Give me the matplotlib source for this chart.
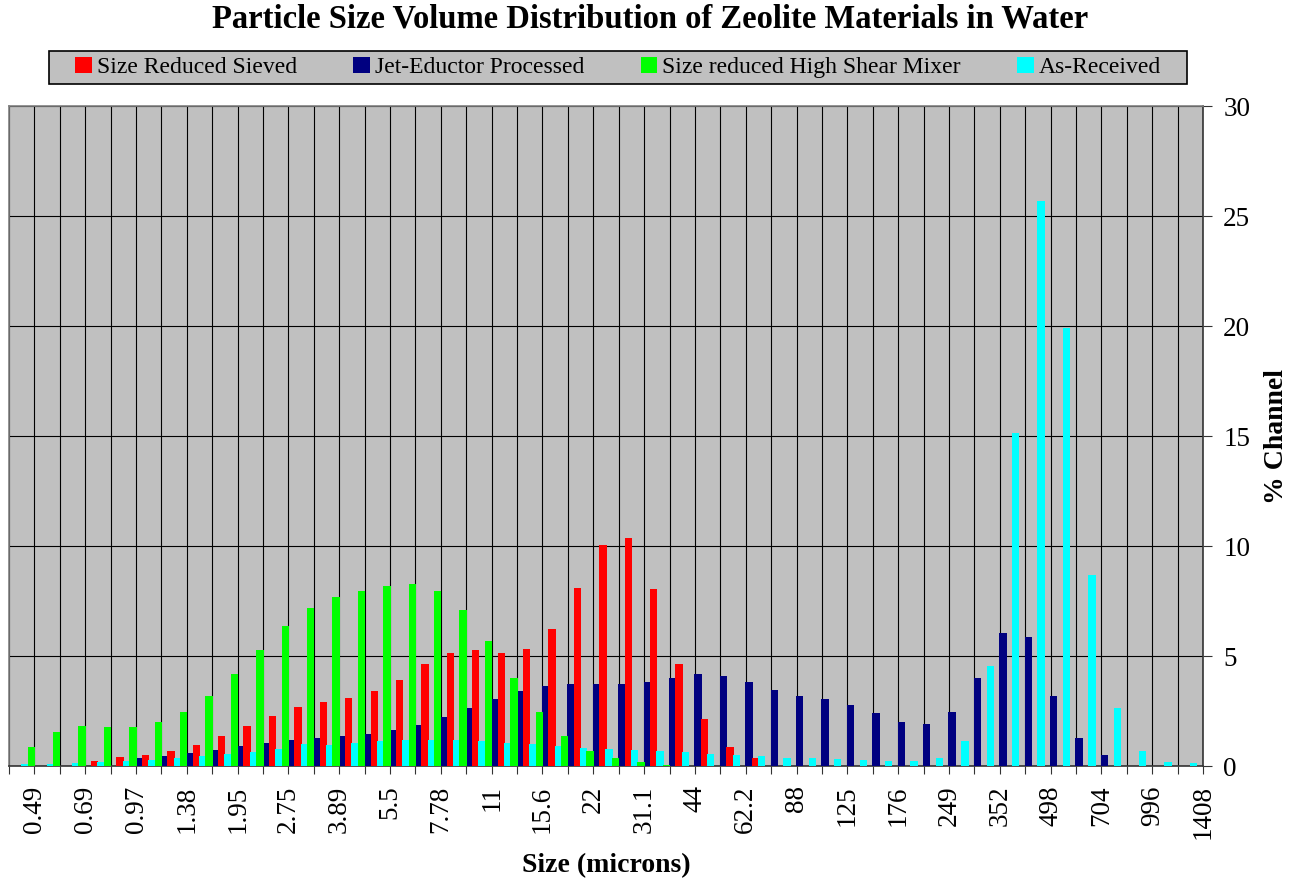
import numpy as np
import matplotlib
matplotlib.use("Agg")
import matplotlib.pyplot as plt
from matplotlib.patches import Rectangle

plt.rcParams['font.family'] = ['Liberation Serif', 'DejaVu Serif']

# size labels sit on every other channel boundary (microns)
size_labels = ['0.49', '0.69', '0.97', '1.38', '1.95', '2.75', '3.89', '5.5',
               '7.78', '11', '15.6', '22', '31.1', '44', '62.2', '88', '125',
               '176', '249', '352', '498', '704', '996', '1408']

# % channel for each of the 47 channels
sieved = [0, 0, 0, 0.23, 0.41, 0.52, 0.68, 0.97, 1.36, 1.82, 2.29, 2.68, 2.91,
          3.09, 3.39, 3.92, 4.62, 5.15, 5.27, 5.15, 5.33, 6.25, 8.07, 10.05,
          10.35, 8.03, 4.65, 2.15, 0.88, 0.38, 0, 0, 0, 0, 0, 0, 0, 0, 0, 0,
          0, 0, 0, 0, 0, 0, 0]
jet = [0, 0, 0, 0, 0, 0.38, 0.47, 0.58, 0.73, 0.89, 1.05, 1.18, 1.29, 1.38,
       1.47, 1.64, 1.88, 2.21, 2.62, 3.05, 3.42, 3.65, 3.74, 3.71, 3.71, 3.8,
       4.02, 4.17, 4.11, 3.83, 3.47, 3.2, 3.03, 2.79, 2.39, 2.0, 1.92, 2.47,
       4.02, 6.03, 5.85, 3.17, 1.29, 0.48, 0, 0, 0]
shear = [0.88, 1.56, 1.83, 1.76, 1.76, 1.98, 2.47, 3.18, 4.17, 5.29, 6.38, 7.2,
         7.67, 7.95, 8.18, 8.26, 7.96, 7.09, 5.67, 3.98, 2.45, 1.36, 0.68,
         0.35, 0.17, 0.06, 0, 0, 0, 0, 0, 0, 0, 0, 0, 0, 0, 0, 0, 0, 0, 0, 0,
         0, 0, 0, 0]
received = [0.08, 0.1, 0.15, 0.18, 0.21, 0.27, 0.35, 0.44, 0.55, 0.65, 0.76,
            0.98, 0.97, 1.03, 1.12, 1.17, 1.18, 1.18, 1.14, 1.05, 0.98, 0.89,
            0.82, 0.76, 0.71, 0.68, 0.64, 0.56, 0.5, 0.44, 0.38, 0.36, 0.32,
            0.26, 0.23, 0.24, 0.38, 1.12, 4.56, 15.14, 25.67, 19.91, 8.68,
            2.65, 0.7, 0.2, 0.15]

names = ['Size Reduced Sieved', 'Jet-Eductor Processed',
         'Size reduced High Shear Mixer', 'As-Received']
colors = {'Size Reduced Sieved': '#FF0000', 'Jet-Eductor Processed': '#000080',
          'Size reduced High Shear Mixer': '#00FF00', 'As-Received': '#00FFFF'}

fig = plt.figure(figsize=(13, 8.82), dpi=100)
ax = fig.add_axes([9 / 1300, 1 - 766 / 882, 1194 / 1300, 660 / 882])
ax.set_facecolor('#C0C0C0')

n = len(sieved)
x = np.arange(n)
# order of bars inside each channel, left to right
plot_order = [('Jet-Eductor Processed', jet), ('Size Reduced Sieved', sieved),
              ('As-Received', received), ('Size reduced High Shear Mixer', shear)]
bars = {}
for s, (name, vals) in enumerate(plot_order):
    bars[name] = ax.bar(x + 0.125 + 0.25 * s, vals, width=0.29,
                        color=colors[name], linewidth=0, zorder=3)

ax.set_xlim(0, n)
ax.set_ylim(0, 30)
ticks = np.arange(n + 1)
labels = [''] * (n + 1)
for j, lab in enumerate(size_labels):
    labels[2 * j + 1] = lab
ax.set_xticks(ticks)
ax.set_xticklabels(labels, rotation=90, fontsize=19.5)
ax.tick_params(axis='x', length=6, width=0.8, color='#333333', pad=8)

ax.yaxis.tick_right()
ax.yaxis.set_label_position('right')
ax.set_yticks(range(0, 31, 5))
ax.tick_params(axis='y', labelsize=19.5, length=6.5, width=0.8,
               color='#333333', pad=8)

ax.grid(True, color='black', linewidth=0.8, zorder=1)
ax.set_axisbelow(True)

for side in ['left', 'top']:
    ax.spines[side].set_color('#808080')
    ax.spines[side].set_linewidth(1.2)
for side in ['bottom', 'right']:
    ax.spines[side].set_color('#333333')
    ax.spines[side].set_linewidth(1.2)

ax.set_xlabel('Size (microns)', fontsize=20, fontweight='bold', labelpad=10)
ax.set_ylabel('% Channel', fontsize=20, fontweight='bold', labelpad=10)

fig.text(0.5, 1 - 19 / 882,
         'Particle Size Volume Distribution of Zeolite Materials in Water',
         ha='center', va='center', fontsize=23.5, fontweight='bold')

# legend box
fig.patches.append(Rectangle((49 / 1300, 1 - 84 / 882), 1138 / 1300, 33 / 882,
                             transform=fig.transFigure, facecolor='#C0C0C0',
                             edgecolor='black', linewidth=1.2))
fig.legend([bars[nm] for nm in names], names, loc='center',
           bbox_to_anchor=(618 / 1300, 1 - 67.5 / 882), ncol=4,
           frameon=False, fontsize=17, handlelength=0.7, handleheight=0.7,
           handletextpad=0.2, columnspacing=2.4)

fig.savefig('out.png', dpi=100)
